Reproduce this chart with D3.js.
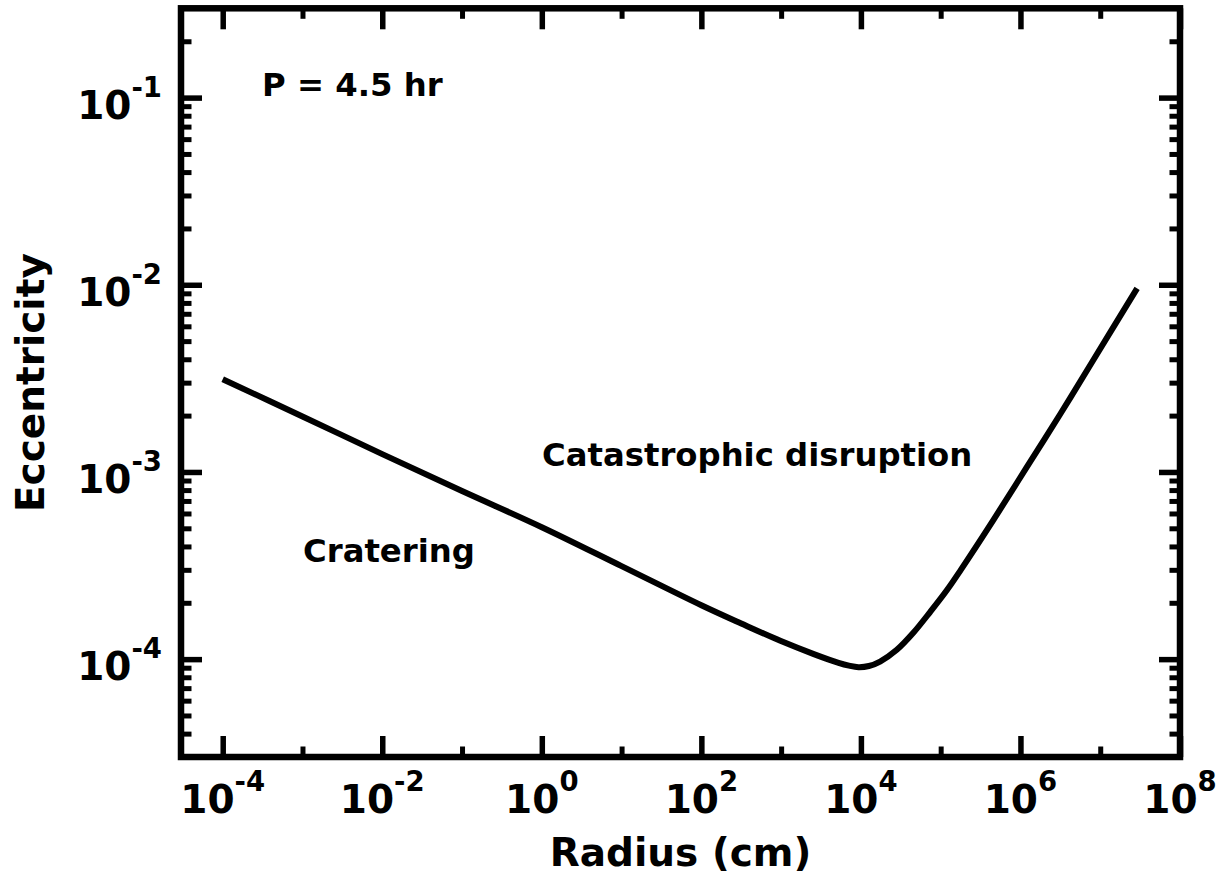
<!DOCTYPE html>
<html>
<head>
<meta charset="utf-8">
<script src="https://cdn.jsdelivr.net/npm/d3@7"></script>
<style>
  body { margin: 0; background: #fff; }
  text { font-family: "DejaVu Sans", sans-serif; font-weight: bold; fill: #000; }
</style>
</head>
<body>
<div id="chart"></div>
<script>
// values
var radius = [1e-4, 1e-3, 1e-2, 1e-1, 1, 10, 100, 316, 977, 2570, 5250, 7080, 9330, 12600,
              17400, 28200, 45700, 74100, 120000, 178000, 457000, 1.2e6, 3.16e6, 8.13e6, 2.9e7];
var eccentricity = [3.13e-3, 1.98e-3, 1.245e-3, 7.91e-4, 5.07e-4, 3.14e-4, 1.94e-4, 1.55e-4, 1.253e-4,
                    1.064e-4, 9.55e-5, 9.23e-5, 9.06e-5, 9.19e-5, 9.71e-5, 1.122e-4, 1.387e-4,
                    1.79e-4, 2.34e-4, 2.99e-4, 5.53e-4, 1.06e-3, 2.04e-3, 3.94e-3, 9.57e-3];

var xMajor = [-4, -2, 0, 2, 4, 6, 8];          // exponents
var xMinor = [-3, -1, 1, 3, 5, 7];
var yMajor = [-4, -3, -2, -1];

var regionLabels = [
    {text: "P = 4.5 hr", x: 262, y: 96},
    {text: "Catastrophic disruption", x: 542, y: 466},
    {text: "Cratering", x: 303, y: 562}
];

var width = 1223, height = 878;
var plotLeft = 181, plotRight = 1180, plotTop = 8.3, plotBottom = 757;

var svg = d3.select("#chart").append("svg")
    .attr("width", width)
    .attr("height", height);

var x = d3.scaleLog().domain([3e-5, 1e8]).range([plotLeft, plotRight]);
var y = d3.scaleLog().domain([3e-5, 0.3]).range([plotBottom, plotTop]);

var yMinor = [];
[-5, -4, -3, -2, -1].forEach(function (k) {
    for (var m = 2; m <= 9; m++) {
        var v = m * Math.pow(10, k);
        if (v >= 3e-5 && v <= 0.3) yMinor.push(v);
    }
});

var pw = function (e) { return Math.pow(10, e); };

// ticks, all pointing inwards
function addAxis(gen, tx, ty, vals, len, w) {
    var g = svg.append("g")
        .attr("transform", "translate(" + tx + "," + ty + ")")
        .call(gen.tickValues(vals).tickSize(-len).tickFormat(""));
    g.select(".domain").remove();
    g.selectAll(".tick line").attr("stroke", "#000").attr("stroke-width", w);
}
addAxis(d3.axisBottom(x), 0, plotBottom, xMajor.map(pw), 21, 5.5);
addAxis(d3.axisBottom(x), 0, plotBottom, xMinor.map(pw), 10.5, 5);
addAxis(d3.axisTop(x), 0, plotTop, xMajor.map(pw), 21, 5.5);
addAxis(d3.axisTop(x), 0, plotTop, xMinor.map(pw), 10.5, 5);
addAxis(d3.axisLeft(y), plotLeft, 0, yMajor.map(pw), 21, 5.5);
addAxis(d3.axisLeft(y), plotLeft, 0, yMinor, 10.5, 5);
addAxis(d3.axisRight(y), plotRight, 0, yMajor.map(pw), 21, 5.5);
addAxis(d3.axisRight(y), plotRight, 0, yMinor, 10.5, 5);

// frame
svg.append("rect")
    .attr("x", plotLeft).attr("y", plotTop)
    .attr("width", plotRight - plotLeft).attr("height", plotBottom - plotTop)
    .attr("fill", "none")
    .attr("stroke", "#000")
    .attr("stroke-width", 6.5);

// curve
var line = d3.line()
    .x(function (d, i) { return x(radius[i]); })
    .y(function (d) { return y(d); })
    .curve(d3.curveCatmullRom);

svg.append("path")
    .attr("d", line(eccentricity))
    .attr("fill", "none")
    .attr("stroke", "#000")
    .attr("stroke-width", 6)
    .attr("stroke-linejoin", "round");

// tick labels
function powLabel(sel) {
    sel.append("tspan").text("10");
    sel.append("tspan")
        .attr("dy", -22)
        .attr("font-size", 27.5)
        .text(function (d) { return d < 0 ? "-" + Math.abs(d) : d; });
}

svg.selectAll(".xlab")
    .data(xMajor)
    .enter()
    .append("text")
    .attr("class", "xlab")
    .attr("x", function (d) { return x(pw(d)); })
    .attr("y", 813)
    .attr("text-anchor", "middle")
    .attr("font-size", 39)
    .call(powLabel);

svg.selectAll(".ylab")
    .data(yMajor)
    .enter()
    .append("text")
    .attr("class", "ylab")
    .attr("x", 162)
    .attr("y", function (d) { return y(pw(d)) + 21; })
    .attr("text-anchor", "end")
    .attr("font-size", 39)
    .call(powLabel);

// axis titles
svg.append("text")
    .attr("x", (plotLeft + plotRight) / 2)
    .attr("y", 866)
    .attr("text-anchor", "middle")
    .attr("font-size", 39)
    .text("Radius (cm)");

svg.append("text")
    .attr("transform", "translate(44," + (plotTop + plotBottom) / 2 + ") rotate(-90)")
    .attr("text-anchor", "middle")
    .attr("font-size", 39)
    .text("Eccentricity");

svg.selectAll(".region")
    .data(regionLabels)
    .enter()
    .append("text")
    .attr("class", "region")
    .attr("x", d => d.x)
    .attr("y", d => d.y)
    .attr("font-size", 32.3)
    .text(d => d.text);
</script>
</body>
</html>
